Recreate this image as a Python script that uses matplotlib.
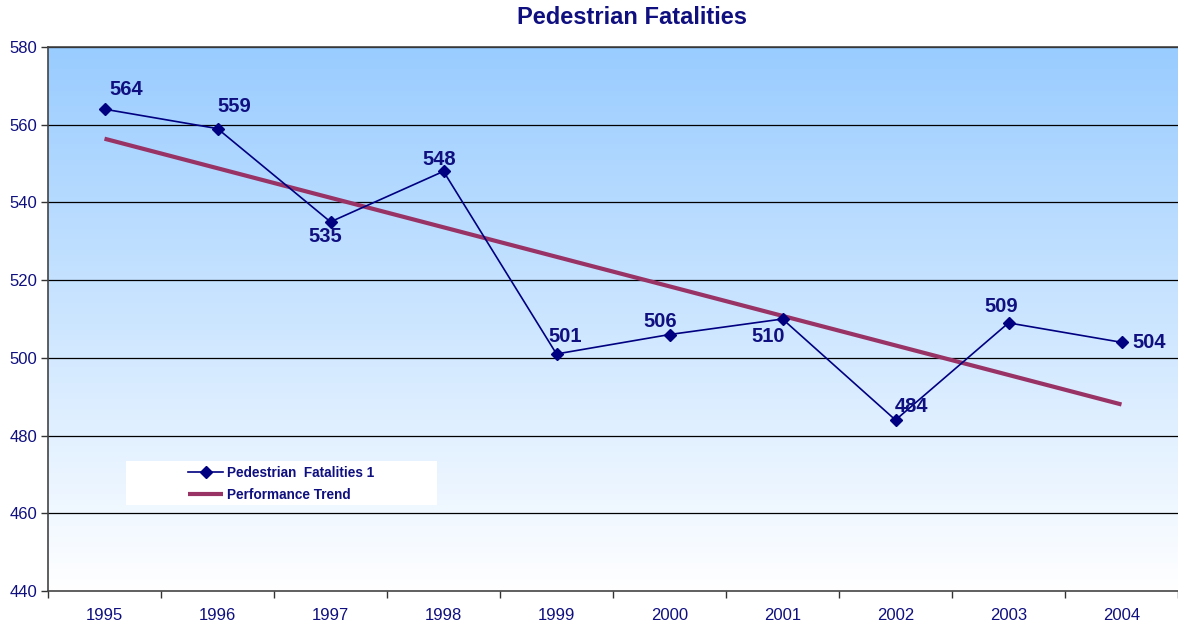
import numpy as np
import matplotlib
matplotlib.use("Agg")
import matplotlib.pyplot as plt
from matplotlib.patches import Rectangle

years = ["1995", "1996", "1997", "1998", "1999", "2000", "2001", "2002", "2003", "2004"]
fatalities = [564, 559, 535, 548, 501, 506, 510, 484, 509, 504]
trend_years = [0, 9]
trend_values = [556.4, 488.0]

navy = "#0F0F80"
plum = "#993366"

plt.rcParams["font.family"] = ["Liberation Sans", "DejaVu Sans"]

fig = plt.figure(figsize=(11.78, 6.29), dpi=100)
ax = fig.add_axes([48 / 1178, 38 / 629, 1130 / 1178, 544 / 629])

# gradient background
grad = np.linspace(0, 1, 256).reshape(-1, 1)
top = np.array([153, 204, 255]) / 255
bot = np.array([255, 255, 255]) / 255
img = top[None, None, :] * (1 - grad[:, :, None]) + bot[None, None, :] * grad[:, :, None]
ax.imshow(img, extent=[-0.5, 9.5, 440, 580], aspect="auto", origin="upper", zorder=0)

ax.set_xlim(-0.5, 9.5)
ax.set_ylim(440, 580)

for yv in range(460, 581, 20):
    ax.axhline(yv, color="black", lw=0.9, zorder=1)

x = np.arange(len(years))
trend, = ax.plot(trend_years, trend_values, color=plum, lw=3, zorder=2, label="Performance Trend",
                 solid_capstyle="butt")
line, = ax.plot(x, fatalities, color="#000080", lw=1.2, marker="D", ms=6.5, zorder=3,
                label="Pedestrian  Fatalities 1")

# label offsets in pixels (label centre relative to the point)
offsets = [(22, 20), (17, 22), (-5, -15), (-4, 12), (9, 17), (-9, 13), (-14, -17), (16, 14), (-7, 16), (28, 0)]
for xi, v, off in zip(x, fatalities, offsets):
    ax.annotate(str(v), (xi, v), xytext=off, textcoords="offset pixels",
                ha="center", va="center",
                fontsize=14.5, fontweight="bold", color=navy, zorder=4)

ax.set_yticks(range(440, 581, 20))
ax.set_xticks(x)
ax.set_xticklabels(years)
ax.set_xticks(np.arange(-0.5, 9.6, 1), minor=True)
ax.tick_params(axis="x", which="major", length=0, pad=12, labelsize=12, labelcolor=navy)
ax.tick_params(axis="x", which="minor", length=5, width=1, color="#333333", direction="out")
ax.tick_params(axis="y", length=5, width=1, color="#333333", labelsize=12, labelcolor=navy, pad=3)

for s in ["left", "bottom", "top"]:
    ax.spines[s].set_color("#444444")
    ax.spines[s].set_linewidth(1.2)
ax.spines["right"].set_visible(False)

# legend box
ax.add_patch(Rectangle((78 / 1130, 86 / 544), 311 / 1130, 44 / 544, transform=ax.transAxes,
                       facecolor="white", edgecolor="none", zorder=5))
leg = ax.legend(handles=[line, trend], loc="center left",
                bbox_to_anchor=((181 - 48) / 1130, (591 - 484) / 544),
                frameon=False, prop={"weight": "bold", "size": 9.8}, handlelength=2.6,
                handletextpad=0.3, borderpad=0, labelspacing=0.55)
leg.set_zorder(6)
for t in leg.get_texts():
    t.set_color(navy)

fig.text(632 / 1178, 1 - 18 / 629, "Pedestrian Fatalities", ha="center", va="center",
         fontsize=17, fontweight="bold", color=navy)

fig.savefig("out.png", dpi=100)
